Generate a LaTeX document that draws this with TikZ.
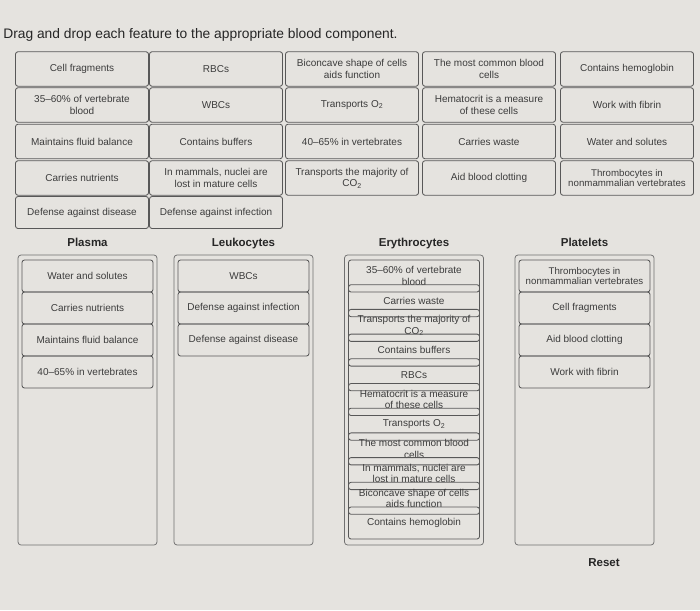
\documentclass[tikz,border=0pt]{standalone}
\usepackage{fontspec}
\setmainfont{Liberation Sans}
\usepackage{tikz}
\usetikzlibrary{positioning}

\definecolor{bggray}{RGB}{229,227,223}
\definecolor{linegray}{RGB}{88,88,88}
\definecolor{bingray}{RGB}{112,112,112}
\definecolor{txtgray}{RGB}{60,60,60}

\begin{document}
\begin{tikzpicture}[x=1pt, y=-1pt, semithick,
    cell/.style={draw=linegray, line width=0.85pt, rounded corners=2.5pt, minimum width=133pt, minimum height=34.5pt, inner sep=1pt, align=center, text=txtgray, font=\fontsize{10}{11.5}\selectfont},
    item/.style={cell, minimum width=131pt, minimum height=32pt},
    bin/.style={draw=bingray, line width=0.75pt, rounded corners=3pt, minimum width=139pt, minimum height=290pt},
    head/.style={anchor=base, text=black!85, font=\fontsize{11.5}{13}\selectfont\bfseries}]
    	\fill[bggray] (0,0) rectangle (700,610);
    	\useasboundingbox (0,0) rectangle (700,610);
    	\node[anchor=base west, inner sep=0, text=black!85, font=\fontsize{13.8}{16}\selectfont] (title) at (3,38) {Drag and drop each feature to the appropriate blood component.};
    	% feature grid
    	\node[cell] (g1) at (82,69) {Cell fragments};
    	\node[cell] (g2) at (216,69) {RBCs};
    	\node[cell] (g3) at (352,69) {Biconcave shape of cells\\aids function};
    	\node[cell] (g4) at (489,69) {The most common blood\\cells};
    	\node[cell] (g5) at (627,69) {Contains hemoglobin};
    	\node[cell] (g6) at (82,105) {35--60\% of vertebrate\\blood};
    	\node[cell] (g7) at (216,105) {WBCs};
    	\node[cell] (g8) at (352,105) {Transports O\textsubscript{2}};
    	\node[cell] (g9) at (489,105) {Hematocrit is a measure\\of these cells};
    	\node[cell] (g10) at (627,105) {Work with fibrin};
    	\node[cell] (g11) at (82,141.5) {Maintains fluid balance};
    	\node[cell] (g12) at (216,141.5) {Contains buffers};
    	\node[cell] (g13) at (352,141.5) {40--65\% in vertebrates};
    	\node[cell] (g14) at (489,141.5) {Carries waste};
    	\node[cell] (g15) at (627,141.5) {Water and solutes};
    	\node[cell] (g16) at (82,178) {Carries nutrients};
    	\node[cell] (g17) at (216,178) {In mammals, nuclei are\\lost in mature cells};
    	\node[cell] (g18) at (352,178) {Transports the majority of\\CO\textsubscript{2}};
    	\node[cell] (g19) at (489,178) {Aid blood clotting};
    	\node[cell, font=\fontsize{9.7}{10.8}\selectfont] (g20) at (627,178) {Thrombocytes in\\nonmammalian vertebrates};
    	\node[cell, minimum height=32pt] (g21) at (82,212.5) {Defense against disease};
    	\node[cell, minimum height=32pt] (g22) at (216,212.5) {Defense against infection};
    	% bins
    	\node[head] (hp) at (87.5,246) {Plasma};
    	\node[head] (hl) at (243.5,246) {Leukocytes};
    	\node[head] (he) at (414,246) {Erythrocytes};
    	\node[head] (ht) at (584.5,246) {Platelets};
    	\node[bin] (plasma) at (87.5,400) {};
    	\node[bin] (leuko) at (243.5,400) {};
    	\node[bin] (ery) at (414,400) {};
    	\node[bin] (plat) at (584.5,400) {};
    	\node[item] (p1) at (87.5,276) {Water and solutes};
    	\node[item] (p2) at (87.5,308) {Carries nutrients};
    	\node[item] (p3) at (87.5,340) {Maintains fluid balance};
    	\node[item] (p4) at (87.5,372) {40--65\% in vertebrates};
    	\node[item] (l1) at (243.5,276) {WBCs};
    	\node[item] (l2) at (243.5,308) {Defense against infection};
    	\node[item] (l3) at (243.5,340) {Defense against disease};
    	\node[item] (e1) at (414,276) {35--60\% of vertebrate\\blood};
    	\node[item] (e2) at (414,300.7) {Carries waste};
    	\node[item] (e3) at (414,325.4) {Transports the majority of\\CO\textsubscript{2}};
    	\node[item] (e4) at (414,350.1) {Contains buffers};
    	\node[item] (e5) at (414,374.8) {RBCs};
    	\node[item] (e6) at (414,399.5) {Hematocrit is a measure\\of these cells};
    	\node[item] (e7) at (414,424.2) {Transports O\textsubscript{2}};
    	\node[item] (e8) at (414,448.9) {The most common blood\\cells};
    	\node[item] (e9) at (414,473.6) {In mammals, nuclei are\\lost in mature cells};
    	\node[item] (e10) at (414,498.3) {Biconcave shape of cells\\aids function};
    	\node[item] (e11) at (414,523) {Contains hemoglobin};
    	\node[item, font=\fontsize{9.7}{10.8}\selectfont] (t1) at (584.5,276) {Thrombocytes in\\nonmammalian vertebrates};
    	\node[item] (t2) at (584.5,308) {Cell fragments};
    	\node[item] (t3) at (584.5,340) {Aid blood clotting};
    	\node[item] (t4) at (584.5,372) {Work with fibrin};
    	\node[head] (reset) at (604,566) {Reset};
    \end{tikzpicture}
\end{document}
